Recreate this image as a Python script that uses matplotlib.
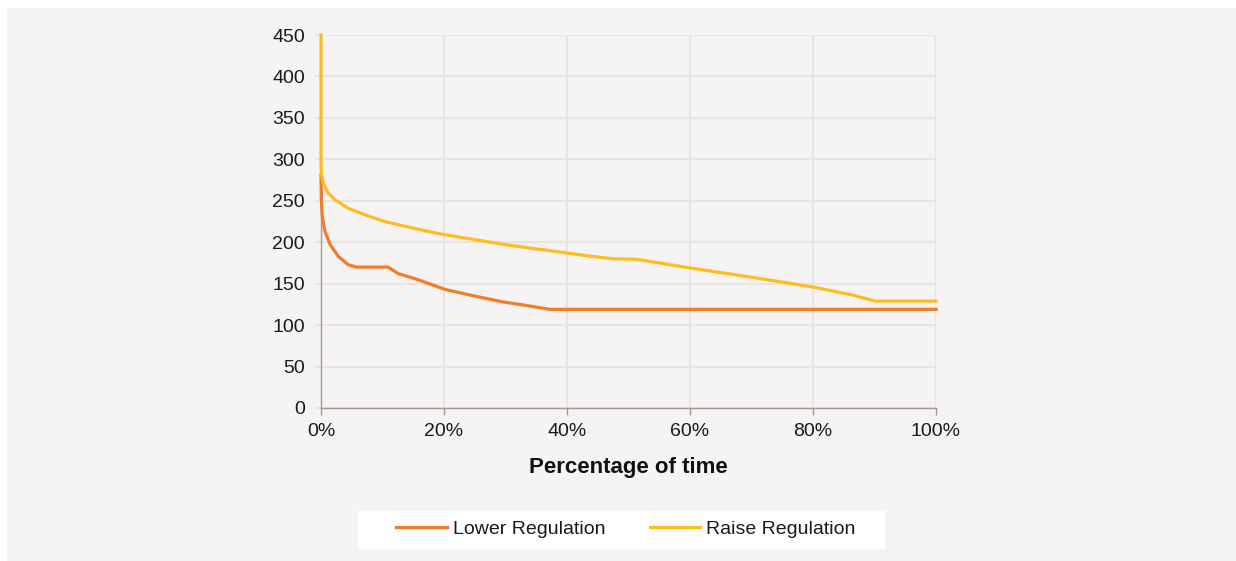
import matplotlib
matplotlib.use("Agg")
import matplotlib.pyplot as plt
from matplotlib.ticker import FuncFormatter, MultipleLocator
from matplotlib.patches import Rectangle

plt.rcParams['font.family'] = ['Liberation Sans', 'DejaVu Sans']

# percentage of time (%) and MW values
lower_x = [0, 0.05, 0.2, 0.65, 1.5, 2.8, 4.4, 5.8, 10.9, 12.6, 15.3, 20.2, 25, 29.6, 34, 37.2, 100]
lower_y = [281, 255, 231, 213, 197, 183, 173, 170, 170, 162, 156, 143, 135, 128, 123, 119, 119]

raise_x = [0, 0, 0.1, 0.38, 1.2, 2.3, 4.4, 7.2, 9.9, 12.6, 17.4, 20.2, 30, 40, 44, 47.5, 51.3,
           60, 69.8, 80, 86.6, 90.1, 100]
raise_y = [450, 295, 282, 271, 259, 251, 241, 233, 226, 221, 213, 209, 197, 187, 183, 180, 179.5,
           169, 158, 146, 136, 129, 129]

series_names = ['Lower Regulation', 'Raise Regulation']
colors = ['#f37b2b', '#fdbd1e']
bg = '#f5f3f4'

fig = plt.figure(figsize=(12.36, 5.61), dpi=100, facecolor=bg)
# white strips along top and left edge of the image
fig.patches.append(Rectangle((0, 0), 6 / 1236, 1, transform=fig.transFigure, color='white', zorder=-1))
fig.patches.append(Rectangle((0, 1 - 7 / 561), 1, 7 / 561, transform=fig.transFigure, color='white', zorder=-1))
# white legend box
fig.patches.append(Rectangle((358 / 1236, 1 - 548 / 561), 526 / 1236, 37 / 561,
                             transform=fig.transFigure, color='white', zorder=0))

ax = fig.add_axes([321 / 1236, 1 - 408 / 561, 615 / 1236, 373 / 561])
ax.set_facecolor(bg)

ax.plot(lower_x, lower_y, color=colors[0], lw=2.3, label=series_names[0], clip_on=False, zorder=3)
ax.plot(raise_x, raise_y, color=colors[1], lw=2.3, label=series_names[1], clip_on=False, zorder=3)

ax.set_xlim(0, 100)
ax.set_ylim(0, 450)
ax.xaxis.set_major_locator(MultipleLocator(20))
ax.yaxis.set_major_locator(MultipleLocator(50))
ax.xaxis.set_major_formatter(FuncFormatter(lambda v, p: f"{v:.0f}%"))

ax.grid(True, color='#e8e5e0', lw=1.5)
ax.set_axisbelow(True)
for s in ['top', 'right']:
    ax.spines[s].set_visible(False)
for s in ['left', 'bottom']:
    ax.spines[s].set_color('#a39a8a')
    ax.spines[s].set_linewidth(1.0)
ax.tick_params(axis='both', colors='#a39a8a', labelcolor='#1a1a1a', labelsize=14, width=1.0)
ax.tick_params(axis='y', colors='#e8e5e0', labelcolor='#1a1a1a', width=1.5, length=4.5, pad=7)
ax.tick_params(axis='x', length=5, pad=6)

ax.set_xlabel('Percentage of time', fontsize=16, fontweight='bold', color='#111111', labelpad=12)

leg = fig.legend(loc='center', bbox_to_anchor=(626 / 1236, 1 - 529 / 561), ncol=2,
                 frameon=False, fontsize=14, handlelength=2.6,
                 columnspacing=2.3, handletextpad=0.3, borderpad=0.3, borderaxespad=0)
for t in leg.get_texts():
    t.set_color('#1a1a1a')

fig.savefig('out.png', dpi=100, facecolor=bg)
